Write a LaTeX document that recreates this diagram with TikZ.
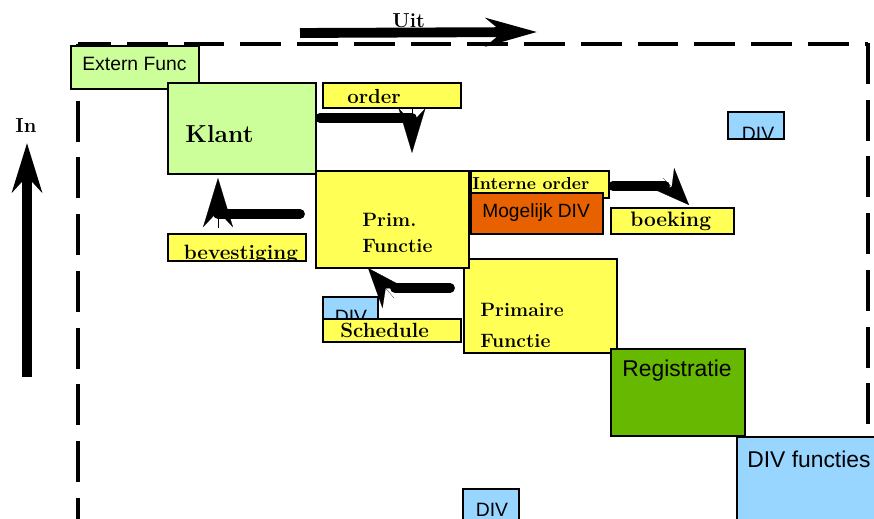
\documentclass[tikz,border=0pt]{standalone}
\usepackage{fontspec}
\newfontfamily\arial{Liberation Sans}
\usepackage{tikz}
\usetikzlibrary{arrows.meta,calc,positioning}

\definecolor{lgroen}{HTML}{CCFF99}
\definecolor{geel}{HTML}{FFFF55}
\definecolor{oranje}{HTML}{E86100}
\definecolor{groen}{HTML}{66B800}
\definecolor{lblauw}{HTML}{99D6FF}
\newcommand{\pxu}{0.2mm}

\tikzset{
  blok/.style={draw, line width=1.1pt, rectangle, anchor=north west, inner sep=0pt},
  vet/.style={inner sep=0pt, minimum size=0pt, anchor=base west, font=\bfseries\fontsize{#1}{#1}\selectfont},
  schreef/.style={inner sep=0pt, minimum size=0pt, anchor=base west, font=\arial\fontsize{#1}{#1}\selectfont},
  dikpijl/.style={line width=5.6pt, line cap=round},
  punt/.style={line width=0.1pt, -{Stealth[#1]}},
  kader/.style={line width=2.8pt, dash pattern=on 23.2pt off 9.1pt}
}

\begin{document}
\begin{tikzpicture}[x=0.02cm, y=-0.02cm]
\useasboundingbox (0,0) rectangle (874,519);

% kader
\draw[kader, dash phase=4.5pt] (78,44) -- (868,44);
\draw[kader] (78,44) -- (78,560);
\draw[kader] (868,43) -- (868,560);

% blokken
\node (extern) at (70,45) [blok, fill=lgroen, minimum width=128*\pxu, minimum height=43*\pxu] {};
\node (klant) at (167,82) [blok, fill=lgroen, minimum width=148*\pxu, minimum height=91*\pxu] {};
\node (order) at (322,82) [blok, fill=geel, minimum width=138*\pxu, minimum height=25*\pxu] {};
\node (primaire) at (463,258) [blok, fill=geel, minimum width=153*\pxu, minimum height=94*\pxu] {};
\node (prim) at (315,170) [blok, fill=geel, minimum width=153*\pxu, minimum height=97*\pxu] {};
\node (intern) at (470,170) [blok, fill=geel, minimum width=138*\pxu, minimum height=27*\pxu] {};
\node (mogelijk) at (470,192) [blok, fill=oranje, minimum width=132*\pxu, minimum height=41*\pxu] {};
\node (boeking) at (610,207) [blok, fill=geel, minimum width=123*\pxu, minimum height=26*\pxu] {};
\node (div1) at (727,111) [blok, fill=lblauw, minimum width=56*\pxu, minimum height=27*\pxu,
  path picture={\node at ([xshift=7.4pt,yshift=-1.1pt]path picture bounding box.south west) [schreef=11] {DIV};}] {};
\node (bevestiging) at (167,233) [blok, fill=geel, minimum width=138*\pxu, minimum height=27*\pxu,
  path picture={\node at ([xshift=8.5pt,yshift=1.1pt]path picture bounding box.south west) [vet=11.8] {bevestiging};}] {};
\node (div2) at (322,296) [blok, fill=lblauw, minimum width=55*\pxu, minimum height=22*\pxu,
  path picture={\node at ([xshift=6.2pt,yshift=-2.8pt]path picture bounding box.south west) [schreef=11] {DIV};}] {};
\node (schedule) at (322,318) [blok, fill=geel, minimum width=138*\pxu, minimum height=23*\pxu] {};
\node (registratie) at (610,348) [blok, fill=groen, minimum width=134*\pxu, minimum height=87*\pxu] {};
\node (divf) at (736,436) [blok, fill=lblauw, minimum width=150*\pxu, minimum height=100*\pxu] {};
\node (div3) at (462,488) [blok, fill=lblauw, minimum width=56*\pxu, minimum height=50*\pxu,
  path picture={\node at ([xshift=6.8pt,yshift=13pt]path picture bounding box.south west) [schreef=11] {DIV};}] {};

% teksten
\node (uit-t) at (392,28) [vet=11.5] {Uit};
\node (in-t) at (15,133) [vet=11.5] {In};
\node (extern-t) at (82,71) [schreef=11] {Extern Func};
\node (klant-t) at (185,143) [vet=14] {Klant};
\node (order-t) at (347,104) [vet=11.6] {order};
\node (prim-t1) at (362,227) [vet=11] {Prim.};
\node (prim-t2) at (362,253) [vet=11] {Functie};
\node (intern-t) at (472,190) [vet=9.9] {Interne order};
\node (mogelijk-t) at (482,218) [schreef=10.9] {Mogelijk DIV};
\node (boeking-t) at (630,227) [vet=11.9] {boeking};
\node (primaire-t1) at (480,317) [vet=11] {Primaire};
\node (primaire-t2) at (480,348) [vet=11] {Functie};
\node (schedule-t) at (340,338) [vet=11.7] {Schedule};
\node (registratie-t) at (622,377) [schreef=13] {Registratie};
\node (divf-t) at (747,467) [schreef=13] {DIV functies};

% pijlen
\coordinate (uit0) at (300,33);
\coordinate (uit1) at (537,32);
\draw[dikpijl, line cap=butt, -{Stealth[length=29pt,width=16pt]}] (uit0) -- (uit1);
\coordinate (in0) at (27,377);
\coordinate (in1) at (27,143);
\draw[dikpijl, line cap=butt, -{Stealth[length=28pt,width=17pt]}] (in0) -- (in1);

\coordinate (k0) at (320,118);
\coordinate (k1) at (412,118);
\coordinate (k2) at (412,108);
\coordinate (k3) at (412,153);
\draw[dikpijl] (k0) -- (k1);
\draw[punt={length=25.5pt,width=15.3pt}] (k2) -- (k3);

\coordinate (b0) at (300,214);
\coordinate (b1) at (218,214);
\coordinate (b2) at (218,228);
\coordinate (b3) at (218,178);
\draw[dikpijl] (b0) -- (b1);
\draw[punt={length=28pt,width=17pt}] (b2) -- (b3);

\coordinate (s0) at (450,288);
\coordinate (s1) at (395,288);
\coordinate (s2) at (394,298);
\coordinate (s3) at (368,268);
\draw[dikpijl] (s0) -- (s1);
\draw[punt={length=22.7pt,width=17.5pt}] (s2) -- (s3);

\coordinate (i0) at (613,186);
\coordinate (i1) at (665,186);
\coordinate (i2) at (663,178);
\coordinate (i3) at (689,205);
\draw[dikpijl] (i0) -- (i1);
\draw[punt={length=21pt,width=17pt}] (i2) -- (i3);
\end{tikzpicture}
\end{document}
